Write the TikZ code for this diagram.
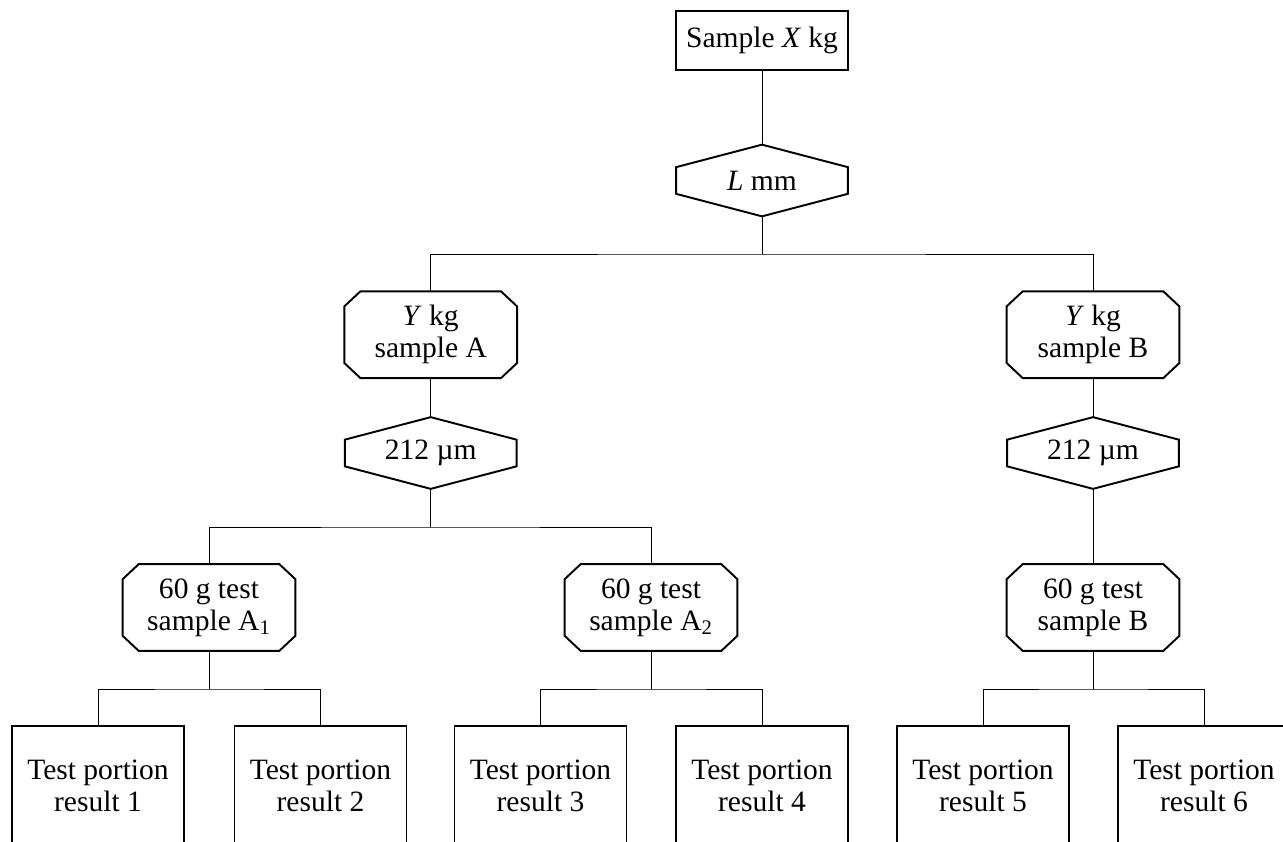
\documentclass[tikz,border=0pt]{standalone}
\usepackage{fontspec}
\setmainfont{Liberation Serif}
\begin{document}
\begin{tikzpicture}[x=0.02cm, y=-0.02cm,
    every node/.style={font=\fontsize{16.8}{18.4}\selectfont, align=center, inner sep=0pt},
    frame/.style={line width=1.1pt, line join=miter},
    link/.style={line width=0.55pt},
    sq/.style={draw, frame, minimum width=3.44cm, minimum height=1.18cm},
    hexa/.style={minimum width=3.42cm, minimum height=1.42cm},
    octa/.style={minimum width=3.44cm, minimum height=1.72cm},
    result/.style={draw, frame, minimum width=3.44cm, minimum height=2.4cm}]
  \clip (0,0) rectangle (1283,841);
  % sample and crusher
  \node[sq] (top) at (762,40.5) {Sample \textit{X} kg};
  \node[hexa] (lmm) at (762,180.5) {\textit{L} mm};
  % divided samples
  \node[octa] (yA) at (430.7,334.7) {\textit{Y} kg\\sample A};
  \node[octa] (yB) at (1093,334.7) {\textit{Y} kg\\sample B};
  \node[hexa] (sA) at (430.7,453) {212 µm};
  \node[hexa] (sB) at (1093,453) {212 µm};
  % test samples
  \node[octa] (tA1) at (209,607.5) {60 g test\\sample A\textsubscript{1}};
  \node[octa] (tA2) at (651,607.5) {60 g test\\sample A\textsubscript{2}};
  \node[octa] (tB) at (1093,607.5) {60 g test\\sample B};
  % test portions
  \node[result] (r1) at (98,786) {Test portion\\result 1};
  \node[result] (r2) at (320.5,786) {Test portion\\result 2};
  \node[result] (r3) at (540.5,786) {Test portion\\result 3};
  \node[result] (r4) at (762,786) {Test portion\\result 4};
  \node[result] (r5) at (983,786) {Test portion\\result 5};
  \node[result] (r6) at (1204,786) {Test portion\\result 6};
  % outlines
  \foreach \n in {lmm,sA,sB}
    \draw[frame] (\n.north) -- ([yshift=-0.45cm]\n.north east) -- ([yshift=0.45cm]\n.south east)
      -- (\n.south) -- ([yshift=0.45cm]\n.south west) -- ([yshift=-0.45cm]\n.north west) -- cycle;
  \foreach \n in {yA,yB,tA1,tA2,tB}
    \draw[frame] ([xshift=0.32cm]\n.north west) -- ([xshift=-0.32cm]\n.north east)
      -- ([yshift=-0.3cm]\n.north east) -- ([yshift=0.3cm]\n.south east)
      -- ([xshift=-0.32cm]\n.south east) -- ([xshift=0.32cm]\n.south west)
      -- ([yshift=0.3cm]\n.south west) -- ([yshift=-0.3cm]\n.north west) -- cycle;
  % junctions
  \coordinate (j1) at (762,254);
  \coordinate (j2) at (430.7,527);
  \coordinate (j3) at (209,689);
  \coordinate (j4) at (651,689);
  \coordinate (j5) at (1093,689);
  % links
  \draw[link] (top.south) -- (lmm.north);
  \draw[link] (lmm.south) -- (j1);
  \draw[link] (yA.north) |- (j1) -| (yB.north);
  \draw[link] (yA.south) -- (sA.north);
  \draw[link] (sA.south) -- (j2);
  \draw[link] (tA1.north) |- (j2) -| (tA2.north);
  \draw[link] (yB.south) -- (sB.north);
  \draw[link] (sB.south) -- (tB.north);
  \draw[link] (tA1.south) -- (j3);
  \draw[link] (r1.north) |- (j3) -| (r2.north);
  \draw[link] (tA2.south) -- (j4);
  \draw[link] (r3.north) |- (j4) -| (r4.north);
  \draw[link] (tB.south) -- (j5);
  \draw[link] (r5.north) |- (j5) -| (r6.north);
\end{tikzpicture}
\end{document}
